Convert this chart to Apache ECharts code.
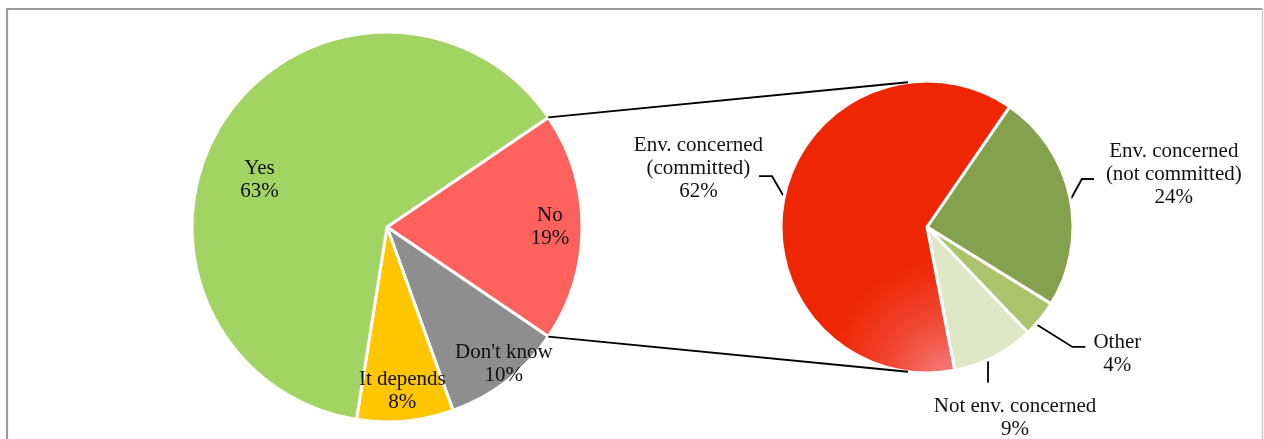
<!DOCTYPE html>
<html>
<head>
<meta charset="utf-8">
<style>
  html, body { margin: 0; padding: 0; background: #fff; }
  #chart { width: 1264px; height: 439px; }
</style>
<script src="https://cdn.jsdelivr.net/npm/echarts@6/dist/echarts.min.js"></script>
</head>
<body>
<div id="chart"></div>
<script>
// Answers to the main question (percent)
const mainNames = ['No', "Don't know", 'It depends', 'Yes'];
const mainValues = [19, 10, 8, 63];

// Breakdown of the "No" answers (percent)
const subNames = ['Env. concerned\n(not committed)', 'Other', 'Not env. concerned', 'Env. concerned\n(committed)'];
const subValues = [24, 4, 9, 62];

// ---- look & layout ----
const FONT = 'Liberation Serif';
const TEXT = '#111';
const MAIN_C = [387, 227], MAIN_R = 195;
const SUB_C = [927, 227], SUB_R = 146;

const mainColors = {
  'No': '#ff615c', "Don't know": '#8e8e8e', 'It depends': '#ffc600', 'Yes': '#a2d463'
};
const committedFill = {
  type: 'radial', x: 0.72, y: 1.0, r: 0.5,
  colorStops: [
    { offset: 0, color: '#f77b78' },
    { offset: 0.5, color: '#f04632' },
    { offset: 1, color: '#ef2604' }
  ]
};
const subColors = {
  'Env. concerned\n(not committed)': '#84a14e',
  'Other': '#a9c46b',
  'Not env. concerned': '#dee7c6',
  'Env. concerned\n(committed)': committedFill
};

// Nudges for the inside labels of the main pie
const mainLabelShift = { 'Yes': [10, 40], "Don't know": [17, 8], 'It depends': [0, 2] };

// Leader lines of the breakdown pie, relative to the point on the pie edge:
// start / elbow / end of the line, label anchor and text alignment
const subLabelSpec = {
  'Env. concerned\n(committed)':     { start: [-1, -2], elbow: [-12, -21], end: [-25, -21], label: [-21, -29], align: 'right' },
  'Env. concerned\n(not committed)': { start: [1, 2],   elbow: [12, -18],  end: [24, -18],  label: [36, -23],  align: 'left' },
  'Other':                           { start: [-3, 6],  elbow: [32, 28],   end: [45, 28],   label: [53, 35],   align: 'left' },
  'Not env. concerned':              { start: [-6, 3],  elbow: [-6, 26],   end: null,       label: [21, 61],   align: 'center' }
};

const rich = {
  t: { fontFamily: FONT, fontSize: 21, lineHeight: 23, color: TEXT, align: 'center' }
};
function labelText(name, value) {
  return name.split('\n').map(s => '{t|' + s + '}').concat('{t|' + value + '%}').join('\n');
}

const mainTotal = mainValues.reduce((a, b) => a + b, 0);
// "No" slice is centred on the right-hand side, facing the breakdown pie
const mainStart = mainValues[0] / mainTotal * 360 / 2;

const mainData = mainNames.map((n, i) => ({
  name: n, value: mainValues[i], itemStyle: { color: mainColors[n] }
}));
const subData = subNames.map((n, i) => ({
  name: n, value: subValues[i], itemStyle: { color: subColors[n] }
}));

// connector lines from the "No" slice to the breakdown pie
const half = mainValues[0] / mainTotal * Math.PI;
const tilt = 7.5 * Math.PI / 180;
const mainTop = [MAIN_C[0] + MAIN_R * Math.cos(half), MAIN_C[1] - MAIN_R * Math.sin(half)];
const mainBot = [MAIN_C[0] + MAIN_R * Math.cos(half), MAIN_C[1] + MAIN_R * Math.sin(half)];
const subTop = [SUB_C[0] - SUB_R * Math.sin(tilt), SUB_C[1] - SUB_R * Math.cos(tilt)];
const subBot = [SUB_C[0] - SUB_R * Math.sin(tilt), SUB_C[1] + SUB_R * Math.cos(tilt)];

const chart = echarts.init(document.getElementById('chart'), null, { renderer: 'canvas' });
chart.setOption({
  animation: false,
  backgroundColor: '#fff',
  graphic: [
    { type: 'polyline', z: 100, shape: { points: [[7, 445], [7, 9], [1262, 9]] },
      style: { stroke: '#9a9a9a', lineWidth: 2.2, fill: null } },
    { type: 'line', z: 100, shape: { x1: 1262.5, y1: 9, x2: 1262.5, y2: 445 },
      style: { stroke: '#c4c4c4', lineWidth: 1.2 } },
    { type: 'line', z: 100, shape: { x1: mainTop[0], y1: mainTop[1], x2: subTop[0], y2: subTop[1] },
      style: { stroke: '#000', lineWidth: 1.8 } },
    { type: 'line', z: 100, shape: { x1: mainBot[0], y1: mainBot[1], x2: subBot[0], y2: subBot[1] },
      style: { stroke: '#000', lineWidth: 1.8 } }
  ],
  series: [
    {
      name: 'main', type: 'pie', center: MAIN_C, radius: [0, MAIN_R],
      startAngle: mainStart, clockwise: true, avoidLabelOverlap: false,
      silent: true, emphasis: { disabled: true },
      itemStyle: { borderColor: '#fff', borderWidth: 3 },
      label: { show: false }, labelLine: { show: false },
      data: mainData
    },
    {
      // label ring: places the main pie labels at ~0.82 of the radius
      name: 'mainLabels', type: 'pie', center: MAIN_C, radius: [MAIN_R * 0.64, MAIN_R],
      startAngle: mainStart, clockwise: true, avoidLabelOverlap: false,
      silent: true, emphasis: { disabled: true }, z: 3,
      itemStyle: { color: 'rgba(0,0,0,0)', borderWidth: 0 },
      label: {
        show: true, position: 'inside',
        formatter: p => labelText(p.name, p.value), rich: rich
      },
      labelLine: { show: false },
      labelLayout: p => {
        const s = mainLabelShift[mainNames[p.dataIndex]];
        return s ? { dx: s[0], dy: s[1] } : {};
      },
      data: mainNames.map((n, i) => ({ name: n, value: mainValues[i] }))
    },
    {
      name: 'sub', type: 'pie', center: SUB_C, radius: [0, SUB_R],
      startAngle: 55.5, clockwise: true, avoidLabelOverlap: false,
      silent: true, emphasis: { disabled: true },
      itemStyle: { borderColor: '#fff', borderWidth: 3 },
      label: {
        show: true, position: 'outside', distanceToLabelLine: 4,
        formatter: p => labelText(p.name, p.value), rich: rich
      },
      labelLine: { show: true, length: 12, length2: 12, lineStyle: { color: '#000', width: 1.8 } },
      labelLayout: p => {
        const spec = subLabelSpec[subNames[p.dataIndex]];
        const a = p.labelLinePoints[0];
        const pts = [
          [a[0] + spec.start[0], a[1] + spec.start[1]],
          [a[0] + spec.elbow[0], a[1] + spec.elbow[1]]
        ];
        if (spec.end) pts.push([a[0] + spec.end[0], a[1] + spec.end[1]]);
        return {
          x: a[0] + spec.label[0], y: a[1] + spec.label[1],
          align: spec.align, verticalAlign: 'middle',
          labelLinePoints: pts
        };
      },
      data: subData
    }
  ]
});
</script>
</body>
</html>
